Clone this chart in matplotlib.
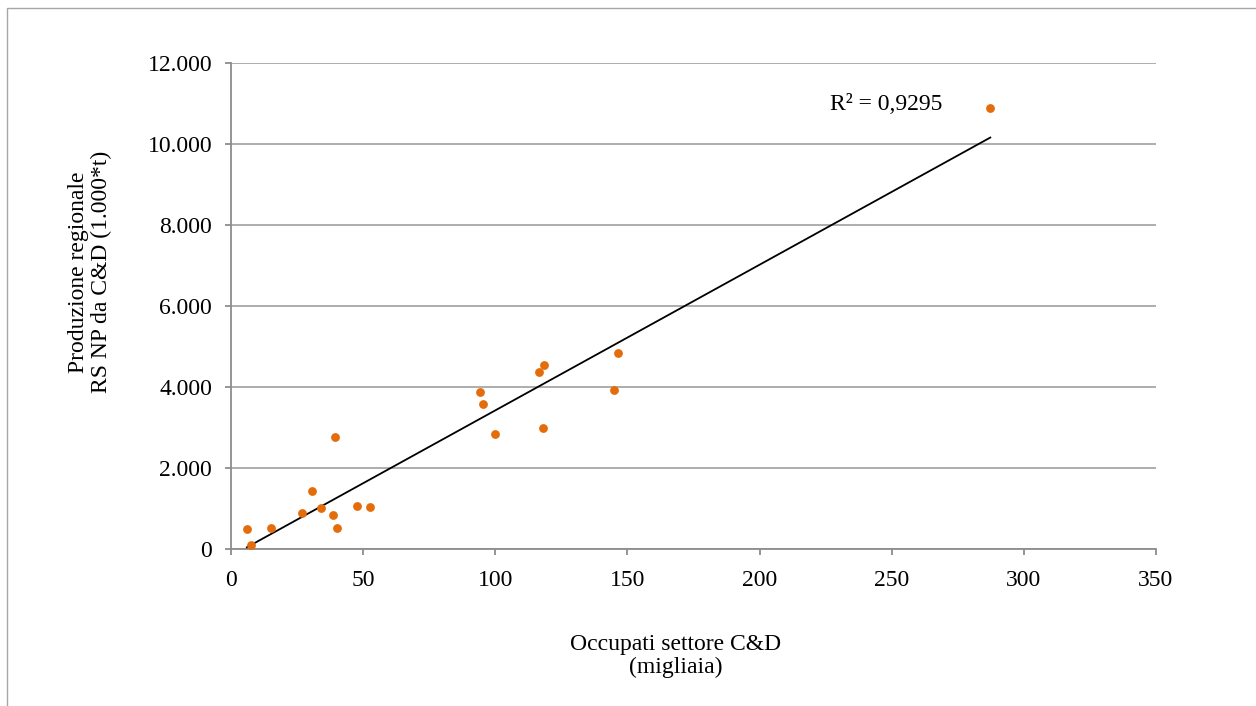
import numpy as np
import matplotlib
matplotlib.use("Agg")
import matplotlib.pyplot as plt
from matplotlib.patches import Rectangle
from matplotlib.ticker import FuncFormatter

# Data
occupati = [6, 7.5, 15, 27, 30.5, 34, 38.5, 40, 39.5, 47.5, 52.5,
            94.3, 95.5, 100, 116.6, 118.3, 118, 144.8, 146.5, 287.3]
produzione = [500, 110, 530, 880, 1440, 1010, 830, 520, 2770, 1070, 1040,
              3880, 3590, 2840, 4380, 4550, 3000, 3930, 4840, 10890]
x_ticks = [0, 50, 100, 150, 200, 250, 300, 350]
y_ticks = [0, 2000, 4000, 6000, 8000, 10000, 12000]
r2_label = "R² = 0,9295"

plt.rcParams['font.family'] = ['Liberation Serif', 'DejaVu Serif']

W, H = 1256, 706
fs = 17
fig = plt.figure(figsize=(W / 100, H / 100), dpi=100)
ax = fig.add_axes([231 / W, 1 - 549 / H, (1156 - 231) / W, (549 - 63) / H])

# outer chart border (left, top, bottom visible; right beyond the image)
fig.patches.append(Rectangle((7 / W, -0.01), 1.05, 1 - 8 / H + 0.01,
                             transform=fig.transFigure, fill=False,
                             edgecolor='#a6a6a6', linewidth=1.0))

gray = '#8c8c8c'
ax.set_xlim(0, 350)
ax.set_ylim(0, 12000)
ax.set_xticks(x_ticks)
ax.set_yticks(y_ticks)
ax.yaxis.set_major_formatter(FuncFormatter(lambda v, p: f"{int(v):,}".replace(",", ".")))
ax.grid(axis='y', color='#a0a0a0', linewidth=1.2)
ax.set_axisbelow(True)
for s in ['top', 'right']:
    ax.spines[s].set_visible(False)
for s in ['left', 'bottom']:
    ax.spines[s].set_color(gray)
    ax.spines[s].set_linewidth(1.3)
ax.tick_params(axis='both', colors=gray, length=4.5, width=1.3, labelsize=fs,
               labelcolor='black', direction='out')
ax.tick_params(axis='x', pad=10.5)
ax.tick_params(axis='y', pad=9)

# trend line
xs = np.array(occupati)
ys = np.array(produzione)
m, b = np.polyfit(xs, ys, 1)
xl = np.array([xs.min(), xs.max()])
ax.plot(xl, m * xl + b, color='black', linewidth=1.3, zorder=3)

ax.scatter(occupati, produzione, s=40, color='#E46C0A', zorder=4, linewidths=0)

ax.text(226.5, 10980, r2_label, fontsize=fs, ha='left', va='center')

fig.text(90 / W, 1 - 272 / H, "Produzione regionale\nRS NP da C&D (1.000*t)",
         rotation=90, ha='center', va='center', fontsize=fs, linespacing=1.12)
fig.text(676 / W, 1 - 656 / H, "Occupati settore C&D\n(migliaia)",
         ha='center', va='center', fontsize=fs, linespacing=1.15)

fig.savefig("out.png", dpi=100)
